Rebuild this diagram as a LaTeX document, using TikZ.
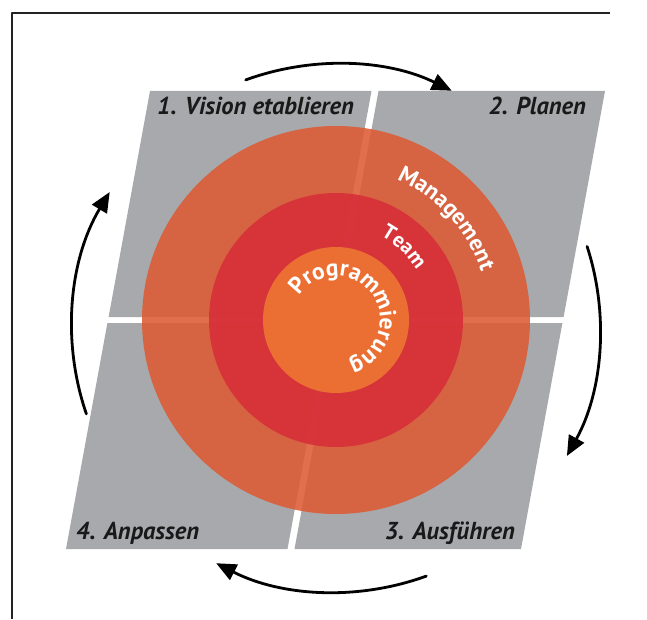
\documentclass[tikz,border=0pt]{standalone}
\usepackage{fontspec}
\setmainfont{PT Sans}
\usetikzlibrary{arrows.meta,decorations.text}

\definecolor{feldgrau}{RGB}{167,169,172}
\definecolor{ringaussen}{RGB}{221,90,51}
\definecolor{ringmitte}{RGB}{214,46,57}
\definecolor{kern}{RGB}{239,120,51}
\definecolor{rahmen}{RGB}{35,35,35}

\begin{document}
\begin{tikzpicture}[x=1pt,y=1pt,line cap=round,line join=round,>={Triangle[length=20pt,width=17pt]},
  feld/.style={fill=feldgrau},
  ring/.style={fill opacity=0.88},
  lbl/.style={font=\fontsize{24.5}{24.5}\selectfont\bfseries\itshape,text=black!90,inner sep=0pt},
  kreislauf/.style={->,line width=2.8pt},
  bogentext/.style={decorate,decoration={text along path,text align=center,text={#1}}}]
\useasboundingbox (0,0) rectangle (647,619);
\draw[rahmen,line width=2pt,line cap=butt] (11.5,0) -- (11.5,606) -- (610,606);

% die vier Felder
\fill[feld] (150,528) -- (371.5,528) -- (330.1,302) -- (108.6,302) -- cycle;
\fill[feld] (378.5,528) -- (605,528) -- (563.6,302) -- (337.1,302) -- cycle;
\fill[feld] (107.4,296) -- (328.9,296) -- (287.5,70) -- (66,70) -- cycle;
\fill[feld] (335.9,296) -- (562.4,296) -- (521,70) -- (294.5,70) -- cycle;

% Kreise
\coordinate (m) at (336,299);
\fill[ringaussen,ring] (m) circle (194);
\fill[ringmitte,ring] (m) circle (127);
\fill[kern,ring] (m) circle (73);

\path[bogentext={|\fontsize{23}{23}\selectfont\bfseries\color{white}|Management}] (m) ++(85:153) arc[start angle=85,end angle=0,radius=153];
\path[bogentext={|\fontsize{21}{21}\selectfont\bfseries\color{white}|Team}] (m) ++(90:95) arc[start angle=90,end angle=4,radius=95];
\path[bogentext={|\fontsize{23.5}{23.5}\selectfont\bfseries\color{white}|Programmierung}] (m) ++(187:44) arc[start angle=187,end angle=-113,radius=44];

% Beschriftung
\node[lbl,anchor=base west] (vision) at (157,504) {1. Vision etablieren};
\node[lbl,anchor=base east] (planen) at (586,504) {2. Planen};
\node[lbl,anchor=base east] (ausfuehren) at (515,80) {3. Ausführen};
\node[lbl,anchor=base west] (anpassen) at (76,80) {4. Anpassen};

% Pfeile aussen
\coordinate (k) at (336,291);
\draw[kreislauf] (k) ++(110:264) arc[start angle=110,end angle=64,radius=264];
\draw[kreislauf] (k) ++(18:264) arc[start angle=18,end angle=-29,radius=264];
\draw[kreislauf] (k) ++(-70:264) arc[start angle=-70,end angle=-117,radius=264];
\draw[kreislauf] (k) ++(199:264) arc[start angle=199,end angle=149,radius=264];
\end{tikzpicture}
\end{document}
